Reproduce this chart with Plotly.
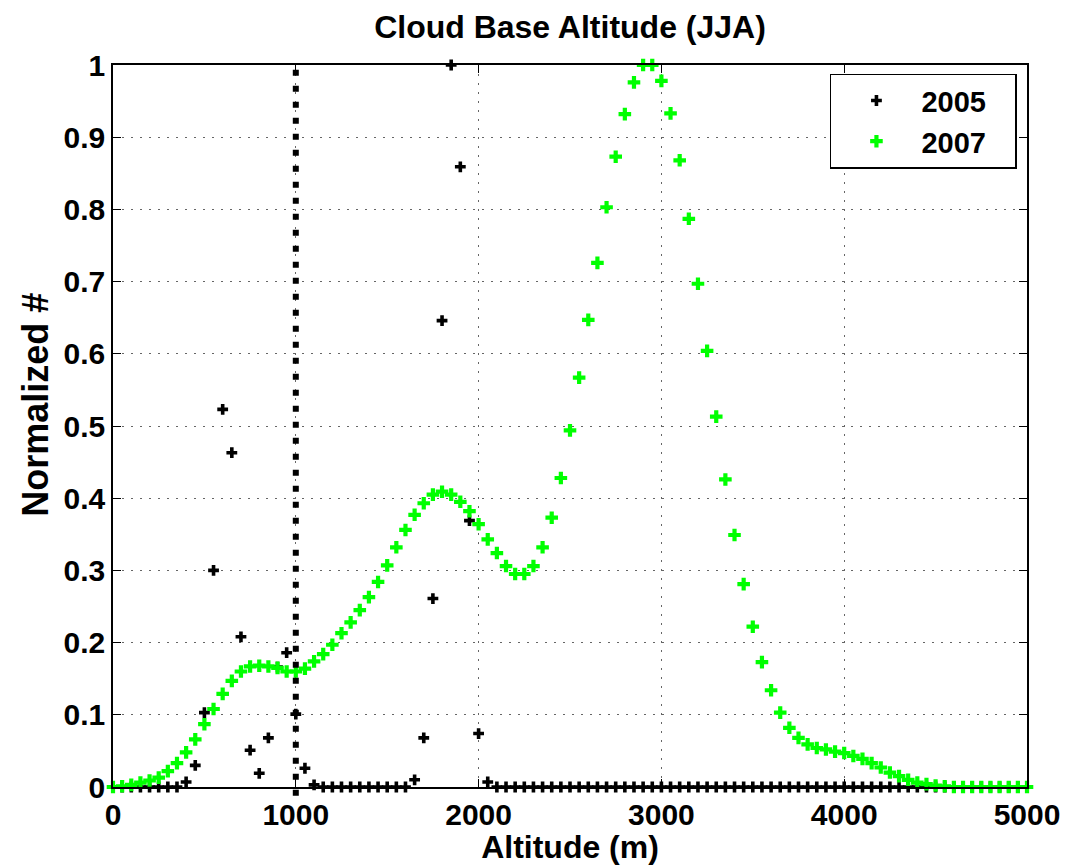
import plotly.graph_objects as go

# Bin centres (m)
altitude = list(range(0, 5001, 50))

# 2005 normalized counts
y2005 = [0, 0, 0, 0, 0, 0, 0, 0,
         0.007, 0.030, 0.103, 0.300, 0.523, 0.463, 0.208, 0.051, 0.019, 0.068,
         0.166, 0.186, 0.101, 0.026, 0.003,
         0, 0, 0, 0, 0, 0, 0, 0, 0, 0,
         0.010, 0.068, 0.261, 0.646, 1.000, 0.859, 0.369, 0.074, 0.007] + [0] * 59

# 2007 normalized counts
y2007 = [0.000, 0.001, 0.003, 0.006, 0.009, 0.013, 0.022, 0.033, 0.048, 0.066,
         0.087, 0.108, 0.129, 0.147, 0.160, 0.167, 0.168, 0.167, 0.165, 0.160,
         0.160, 0.164, 0.174, 0.184, 0.197, 0.213, 0.228, 0.245, 0.263, 0.284,
         0.307, 0.332, 0.356, 0.377, 0.393, 0.405, 0.409, 0.405, 0.395, 0.382,
         0.364, 0.343, 0.324, 0.306, 0.295, 0.295, 0.306, 0.332, 0.373, 0.428,
         0.494, 0.567, 0.647, 0.726, 0.803, 0.873, 0.932, 0.976, 1.000, 1.000,
         0.978, 0.933, 0.868, 0.787, 0.697, 0.604, 0.513, 0.426, 0.349, 0.281,
         0.222, 0.173, 0.134, 0.103, 0.082, 0.068, 0.059, 0.054, 0.052, 0.049,
         0.047, 0.043, 0.039, 0.033, 0.027, 0.020, 0.015, 0.010, 0.006, 0.004,
         0.002, 0.001, 0, 0, 0, 0, 0, 0, 0, 0, 0]

x_ticks = [0, 1000, 2000, 3000, 4000, 5000]
y_ticks = [0, 0.1, 0.2, 0.3, 0.4, 0.5, 0.6, 0.7, 0.8, 0.9, 1]
y_tick_text = ["0", "0.1", "0.2", "0.3", "0.4", "0.5", "0.6", "0.7", "0.8", "0.9", "1"]
threshold = 1000

FONT = "Liberation Sans, Arial, Helvetica, sans-serif"
PAD = "\u00a0\u00a0\u00a0"

fig = go.Figure()
fig.add_trace(go.Scatter(
    x=altitude, y=y2005, mode="markers", name="2005" + PAD,
    marker=dict(symbol="cross", size=9, color="black", line=dict(width=0)),
    cliponaxis=False))
fig.add_trace(go.Scatter(
    x=altitude, y=y2007, mode="markers", name="2007" + PAD,
    marker=dict(symbol="cross", size=10.5, color="#00ff00", line=dict(width=0)),
    cliponaxis=False))

fig.add_shape(type="line", xref="x", yref="paper", x0=threshold, x1=threshold,
              y0=-0.012, y1=1, layer="above",
              line=dict(color="black", width=6, dash="6px,10px"))

axis_common = dict(
    showline=True, linecolor="black", linewidth=1.5, mirror="ticks",
    ticks="inside", ticklen=8, tickwidth=1, tickcolor="black",
    showgrid=True, gridcolor="#666666", gridwidth=1.3, griddash="1.5px,7.5px",
    zeroline=False,
    tickfont=dict(family=FONT, size=30, color="black", weight="bold"),
)

fig.update_layout(
    width=1072, height=865,
    margin=dict(l=113, r=42, t=65, b=77),
    paper_bgcolor="white", plot_bgcolor="white",
    title=dict(text="Cloud Base Altitude (JJA)", x=0.5, xanchor="center",
               xref="paper", y=1 - 27 / 865, yanchor="middle",
               font=dict(family=FONT, size=32, color="black", weight="bold")),
    xaxis=dict(range=[0, 5000], tickvals=x_ticks, tickformat="d",
               title=dict(text="Altitude (m)", standoff=0,
                          font=dict(family=FONT, size=32, color="black", weight="bold")),
               **axis_common),
    yaxis=dict(range=[0, 1], tickvals=y_ticks, ticktext=y_tick_text,
               **axis_common),
    legend=dict(x=0.989, xanchor="right", y=0.988, yanchor="top",
                bgcolor="white", bordercolor="black", borderwidth=1.5,
                font=dict(family=FONT, size=29, color="black", weight="bold"),
                itemwidth=80, tracegroupgap=0),
    showlegend=True,
)

fig.add_annotation(
    text="Normalized #", textangle=-90, showarrow=False,
    xref="paper", yref="paper", x=(35 - 113) / 917, y=(788 - 405) / 723,
    xanchor="center", yanchor="middle",
    font=dict(family=FONT, size=36, color="black", weight="bold"))

fig.write_html("out.html")
